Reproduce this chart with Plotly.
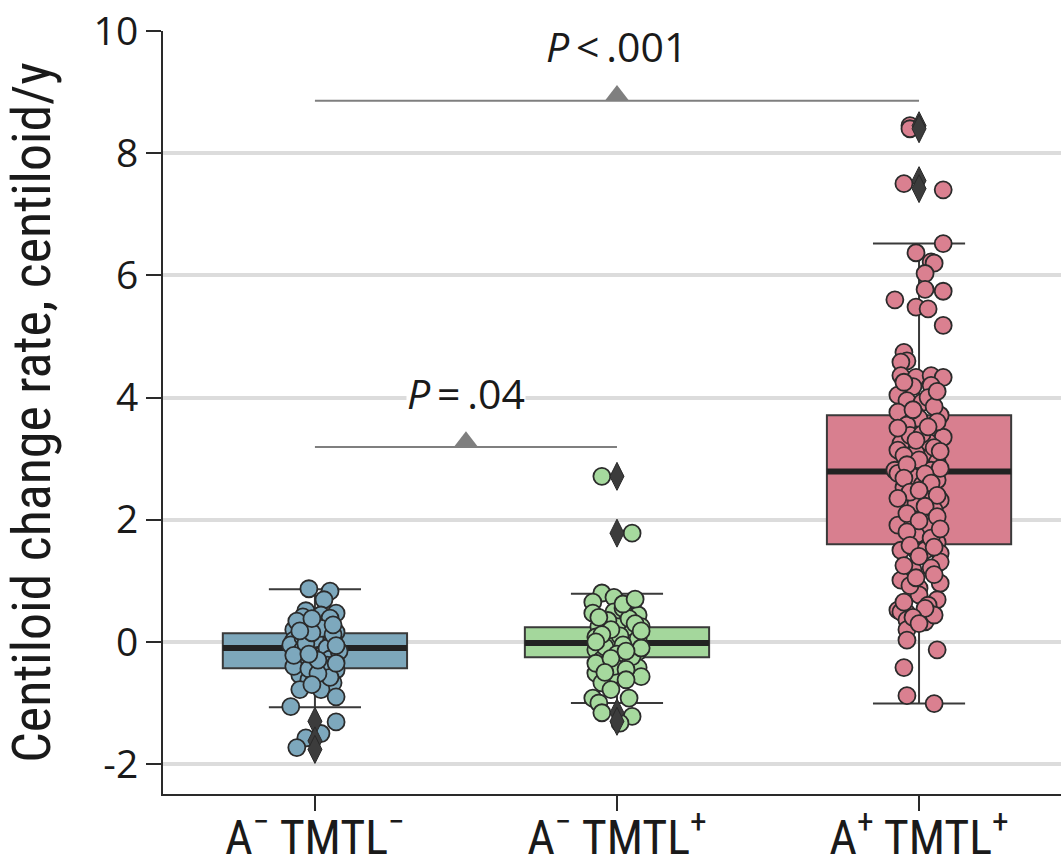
import plotly.graph_objects as go

# ---------------- data ----------------
categories = ["A<sup>−</sup> TMTL<sup>−</sup>", "A<sup>−</sup> TMTL<sup>+</sup>", "A<sup>+</sup> TMTL<sup>+</sup>"]

# box statistics
q1 = [-0.43, -0.25, 1.60]
median = [-0.10, -0.02, 2.79]
q3 = [0.14, 0.24, 3.71]
lower_whisker = [-1.07, -1.00, -1.01]
upper_whisker = [0.86, 0.79, 6.52]

# outliers (drawn as diamonds)
outliers_g1 = [-1.30, -1.62, -1.76]
outliers_g2 = [2.71, 1.78, -1.16, -1.30]
outliers_g3 = [8.45, 8.40, 7.55, 7.42]

# individual points (values) and their horizontal jitter (category units)
values_g1 = [0.87, 0.83, 0.69, 0.51, 0.41, 0.47, 0.44, 0.39, 0.20, 0.16, 0.16, 0.11, 0.03, -0.08,
             -0.02, -0.16, -0.18, -0.21, -0.31, -0.34, -0.49, -0.46, -0.54, -0.62, -0.67, -0.78,
             -0.78, -0.90, -1.06, -1.31, -1.57, -1.50, -1.73,
             0.30, 0.25, 0.05, -0.05, 0.00, -0.10, -0.12, -0.25, -0.28, -0.38, -0.40, -0.44, -0.58,
             -0.15, 0.22, 0.34, 0.08, -0.03, -0.22, -0.52, 0.12, 0.28, -0.70, -0.06, 0.15, -0.35,
             -0.30, 0.18, -0.20, 0.38]
jitter_g1 = [-0.02, 0.05, 0.03, -0.03, -0.04, 0.07, 0.02, 0.05, -0.07, -0.03, 0.07, 0.03, -0.07, -0.01,
             0.05, -0.05, 0.03, 0.07, -0.06, -0.02, 0.02, 0.07, -0.05, -0.02, 0.06, -0.05,
             0.02, 0.07, -0.08, 0.07, -0.03, 0.02, -0.06,
             0.00, -0.05, 0.00, -0.08, 0.06, 0.04, -0.04, -0.01, 0.05, 0.04, -0.07, -0.02, 0.05,
             0.08, 0.02, -0.06, -0.04, -0.03, -0.07, 0.01, 0.06, 0.06, -0.01, 0.07, -0.01, 0.07,
             0.01, -0.05, -0.02, -0.01]

values_g2 = [0.80, 0.73, 0.65, 0.60, 0.49, 0.47, 0.47, 0.44, 0.25, 0.25, 0.25, 0.08, 0.16, -0.02,
             -0.02, -0.13, -0.16, -0.29, -0.32, -0.42, -0.51, -0.57, -0.57, -0.67, -0.78, -0.92,
             -1.00, -0.92, -1.16, -1.22, -1.33, 2.71, 1.78,
             0.55, 0.35, 0.38, 0.10, 0.05, -0.08, -0.05, 0.20, -0.20, -0.24, -0.35, -0.40, -0.45,
             0.30, 0.12, -0.10, 0.00, -0.62, 0.40, 0.62, -0.27, 0.18, -0.15, -0.50, 0.70]
jitter_g2 = [-0.05, -0.01, -0.08, 0.05, -0.01, -0.08, 0.04, 0.07, -0.06, 0.00, 0.08, -0.07, 0.05, -0.01,
             0.05, -0.07, 0.07, -0.05, 0.02, 0.07, -0.07, -0.02, 0.08, -0.05, -0.02, -0.08,
             -0.06, 0.04, -0.05, 0.05, 0.01, -0.05, 0.05,
             0.02, -0.03, 0.04, 0.01, 0.07, -0.04, 0.02, -0.02, 0.00, 0.05, -0.07, -0.01, 0.03,
             0.06, -0.05, 0.08, -0.07, 0.03, -0.06, 0.02, -0.02, 0.08, 0.03, -0.04, 0.06]

values_g3 = [8.45, 8.40, 7.50, 7.40, 6.52, 6.37, 6.22, 6.20, 6.03, 5.77, 5.74, 5.60, 5.48, 5.45, 5.18,
             4.74, 4.60, 4.58, 4.36, 4.33, 4.36, 4.33, 4.18, 4.20, 4.04, 3.95, 3.92, 4.00, 3.76, 3.71,
             3.71, 3.66, 3.55, 3.46, 3.35, 3.25, 3.38, 3.22, 3.27, 3.14, 3.00, 3.09, 2.94, 2.81, 2.86,
             2.81, 2.76, 2.70, 2.65, 2.53, 2.57, 2.32, 2.27, 2.16, 1.91, 1.96, 1.88, 1.75, 1.63, 1.50,
             1.50, 1.50, 1.45, 1.31, 1.18, 1.21, 1.01, 0.96, 0.88, 0.77, 0.69, 0.60, 0.52, 0.47, 0.49,
             0.36, 0.33, 0.44, 0.20, 0.03, -0.13, -0.42, -0.88, -1.01,
             3.85, 3.60, 3.50, 3.40, 3.30, 3.18, 3.05, 2.98, 2.90, 2.84, 2.75, 2.68, 2.60, 2.45, 2.40,
             2.35, 2.22, 2.10, 2.05, 1.98, 1.80, 1.70, 1.58, 1.40, 1.25, 1.10, 0.92, 0.55, 0.40, 0.30,
             4.10, 4.25, 3.80, 3.52, 3.12, 2.48, 1.85, 1.55, 1.05, 0.65]
jitter_g3 = [-0.03, -0.03, -0.05, 0.08, 0.08, -0.01, 0.04, 0.05, 0.02, 0.02, 0.08, -0.08, -0.01, 0.03, 0.08,
             -0.05, -0.04, -0.06, -0.06, -0.01, 0.04, 0.08, -0.02, 0.04, -0.07, -0.04, 0.01, 0.03, -0.07, -0.01,
             0.07, 0.00, -0.04, 0.05, 0.08, -0.06, -0.03, 0.00, 0.03, -0.07, 0.03, -0.01, 0.06, -0.08, -0.02,
             0.04, -0.07, -0.02, 0.06, -0.05, 0.01, 0.07, -0.01, 0.05, -0.07, -0.02, 0.03, -0.01, 0.06, -0.06,
             -0.01, 0.02, 0.07, 0.07, -0.02, 0.04, -0.06, 0.07, 0.00, 0.00, 0.06, 0.03, -0.07, -0.04, -0.06,
             -0.04, 0.02, 0.05, -0.04, -0.04, 0.06, -0.05, -0.04, 0.05,
             0.05, 0.06, -0.07, 0.01, -0.01, 0.05, -0.05, 0.00, -0.04, 0.07, 0.02, -0.05, 0.04, -0.03, 0.06,
             -0.07, 0.02, -0.04, 0.06, 0.00, -0.04, 0.04, -0.03, 0.00, -0.05, 0.05, -0.03, 0.02, -0.02, 0.00,
             0.06, -0.05, -0.02, 0.03, 0.07, 0.00, 0.07, 0.05, -0.01, -0.05]

# significance brackets: (start category, end category, height, label)
bracket_start = [0, 0]
bracket_end = [1, 2]
bracket_y = [3.19, 8.86]
bracket_text_y = [4.08, 9.76]
bracket_labels = ["<i>P</i>\u2009=\u2009.04", "<i>P</i>\u2009&lt;\u2009.001"]

y_tick_vals = [-2, 0, 2, 4, 6, 8, 10]
y_tick_text = ["-2", "0", "2", "4", "6", "8", "10"]

# ---------------- style ----------------
box_fill = ["#7DA7BB", "#A4D79C", "#D87F8F"]
point_fill = ["#7DA8BD", "#A6D99E", "#DA8090"]
edge = "#2b2b2b"
box_width = 0.61
narrow = "Liberation Sans Narrow, Roboto Condensed, Arial Narrow, sans-serif"
regular = "Open Sans, Noto Sans, sans-serif"

fig = go.Figure()

for i in range(3):
    fig.add_trace(go.Box(
        x=[i], q1=[q1[i]], median=[median[i]], q3=[q3[i]],
        lowerfence=[lower_whisker[i]], upperfence=[upper_whisker[i]],
        width=box_width, whiskerwidth=0.5, boxpoints=False,
        fillcolor=box_fill[i], line=dict(color="#3a3a3a", width=2),
        showlegend=False, hoverinfo="skip"))

for i in range(3):
    fig.add_trace(go.Scatter(
        x=[i - box_width / 2, i + box_width / 2], y=[median[i], median[i]],
        mode="lines", line=dict(color="#222222", width=6),
        showlegend=False, hoverinfo="skip"))

groups = [(values_g1, jitter_g1), (values_g2, jitter_g2), (values_g3, jitter_g3)]
for i, (vals, jit) in enumerate(groups):
    fig.add_trace(go.Scatter(
        x=[i + j for j in jit], y=vals, mode="markers",
        marker=dict(size=17, color=point_fill[i], line=dict(color=edge, width=1.8)),
        showlegend=False))

for i, outs in enumerate([outliers_g1, outliers_g2, outliers_g3]):
    fig.add_trace(go.Scatter(
        x=[i] * len(outs), y=outs, mode="markers",
        marker=dict(symbol="diamond-tall", size=20, color="#3c3c3c",
                    line=dict(color="#2a2a2a", width=1)),
        showlegend=False))

tri_size = 21
tri_lift = (tri_size / 4) / 61.1
for s, e, by, ty, lab in zip(bracket_start, bracket_end, bracket_y, bracket_text_y, bracket_labels):
    fig.add_trace(go.Scatter(x=[s, e], y=[by, by], mode="lines",
                             line=dict(color="#7f7f7f", width=2),
                             showlegend=False, hoverinfo="skip"))
    fig.add_trace(go.Scatter(x=[(s + e) / 2], y=[by + tri_lift], mode="markers",
                             marker=dict(symbol="triangle-up", size=tri_size, color="#7f7f7f"),
                             showlegend=False, hoverinfo="skip"))
    fig.add_annotation(x=(s + e) / 2, y=ty, text=lab, showarrow=False,
                       font=dict(family=regular, size=41, color="#1a1a1a"),
                       bgcolor="white", borderpad=0, yanchor="middle")

fig.update_layout(
    width=1061, height=861,
    margin=dict(l=163, r=0, t=31, b=67),
    plot_bgcolor="white", paper_bgcolor="white",
    xaxis=dict(range=[-0.503, 2.47], tickvals=[0, 1, 2], ticktext=categories,
               automargin=False,
               showgrid=False, zeroline=False, showline=True, linecolor="#2a2a2a", linewidth=2,
               ticks="outside", ticklen=15, tickwidth=2, tickcolor="#2a2a2a",
               ticklabelstandoff=-15,
               tickfont=dict(family=narrow, size=48, color="#1a1a1a")),
    yaxis=dict(range=[-2.49, 10], tickvals=y_tick_vals, ticktext=y_tick_text,
               automargin=False,
               showgrid=True, gridcolor="#dcdcdc", gridwidth=4, zeroline=False,
               showline=True, linecolor="#2a2a2a", linewidth=2,
               ticks="outside", ticklen=15, tickwidth=2, tickcolor="#2a2a2a",
               tickfont=dict(family=regular, size=39, color="#1a1a1a"),
               title=dict(text="Centiloid change rate, centiloid/y", standoff=40,
                          font=dict(family=narrow, size=54, color="#1a1a1a"))),
)

fig.write_html("out.html")
